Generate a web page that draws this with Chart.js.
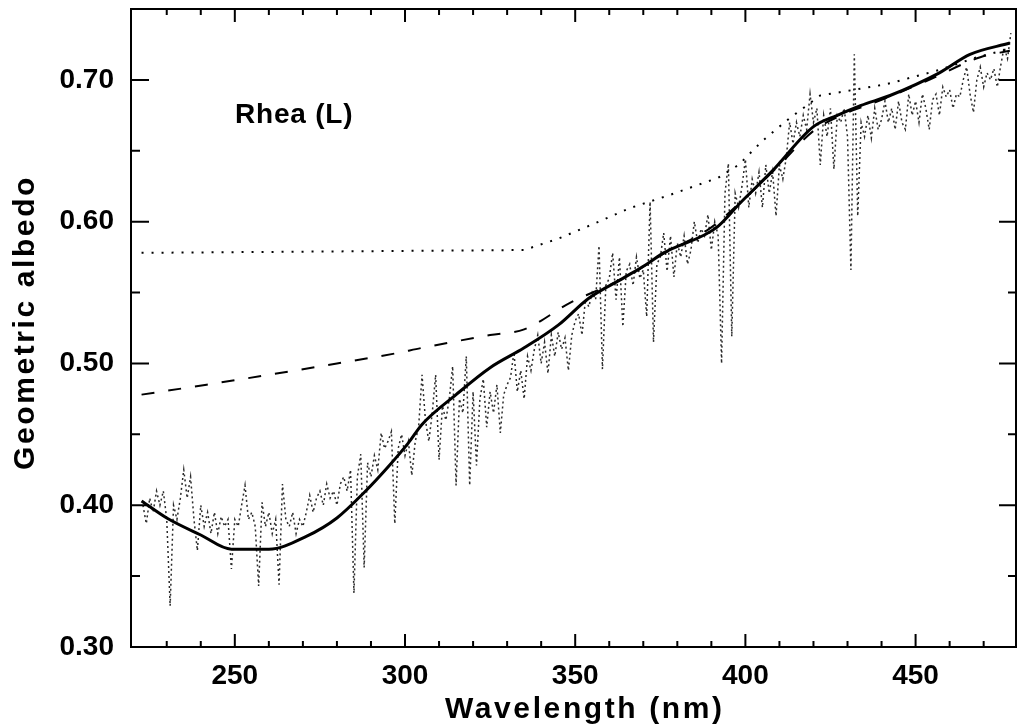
<!DOCTYPE html>
<html><head><meta charset="utf-8">
<script src="https://cdn.jsdelivr.net/npm/chart.js@4.4.0/dist/chart.umd.min.js"></script>
<style>html,body{margin:0;padding:0;background:#fff;}canvas{display:block;}</style>
</head><body>
<canvas id="c" width="1018" height="726"></canvas>
<script>
// ---- tick labels ----
const xTicks = [250, 300, 350, 400, 450];
const xMinorTicks = [230, 240, 260, 270, 280, 290, 310, 320, 330, 340, 360, 370, 380, 390, 410, 420, 430, 440, 460, 470];
const yTicks = [0.30, 0.40, 0.50, 0.60, 0.70];
const yMinorTicks = [0.35, 0.45, 0.55, 0.65];

// ---- smooth model (solid) ----
const solidX = [222.6, 230, 240, 249, 260, 271, 280, 288, 295, 301, 305, 315, 325, 335, 345, 354, 364, 371, 376, 391.6, 398.4, 408, 420, 427, 434, 442.5, 457, 466, 477.7];
const solidY = [0.403, 0.391, 0.379, 0.369, 0.369, 0.378, 0.391, 0.409, 0.427, 0.444, 0.457, 0.478, 0.497, 0.511, 0.527, 0.546, 0.560, 0.570, 0.578, 0.596, 0.613, 0.636, 0.667, 0.675, 0.682, 0.689, 0.705, 0.718, 0.726];

// ---- dashed ----
const dashedX = [222.6, 241.7, 260, 280, 297, 305, 325, 335, 349, 356, 365, 375, 390, 400, 410, 420, 430, 437.6, 453, 469, 477.7];
const dashedY = [0.478, 0.485, 0.492, 0.500, 0.507, 0.511, 0.520, 0.524, 0.5435, 0.551, 0.561, 0.576, 0.596, 0.617, 0.640, 0.664, 0.677, 0.6836, 0.699, 0.716, 0.7206];

// ---- dotted ----
const dottedX = [222.6, 335, 345, 356, 366, 378, 392, 398, 405, 413, 422, 427, 441.5, 457, 468, 477.7];
const dottedY = [0.578, 0.580, 0.588, 0.599, 0.6095, 0.619, 0.631, 0.640, 0.657, 0.673, 0.689, 0.691, 0.697, 0.707, 0.716, 0.722];

// ---- observed spectrum, 1 nm steps from 223 nm ----
const spectrumStart = 223;
const spectrumY = [
  0.400, 0.387, 0.405, 0.395, 0.410, 0.400, 0.410, 0.390, 0.329, 0.400,
  0.390, 0.405, 0.425, 0.405, 0.420, 0.390, 0.368, 0.400, 0.385, 0.395,
  0.380, 0.395, 0.380, 0.392, 0.385, 0.390, 0.355, 0.390, 0.385, 0.400,
  0.414, 0.390, 0.395, 0.385, 0.343, 0.402, 0.385, 0.395, 0.380, 0.390,
  0.344, 0.415, 0.390, 0.385, 0.395, 0.380, 0.390, 0.385, 0.395, 0.407,
  0.395, 0.405, 0.410, 0.400, 0.415, 0.405, 0.410, 0.400, 0.415, 0.420,
  0.410, 0.425, 0.338, 0.420, 0.436, 0.356, 0.430, 0.420, 0.435, 0.425,
  0.451, 0.440, 0.445, 0.452, 0.387, 0.440, 0.450, 0.435, 0.445, 0.421,
  0.445, 0.455, 0.492, 0.460, 0.445, 0.465, 0.492, 0.432, 0.470, 0.460,
  0.475, 0.498, 0.414, 0.475, 0.465, 0.505, 0.414, 0.480, 0.428, 0.475,
  0.489, 0.455, 0.480, 0.465, 0.485, 0.451, 0.478, 0.485, 0.490, 0.508,
  0.480, 0.495, 0.475, 0.505, 0.495, 0.510, 0.520, 0.500, 0.515, 0.493,
  0.520, 0.505, 0.522, 0.510, 0.518, 0.495, 0.520, 0.530, 0.535, 0.520,
  0.545, 0.540, 0.550, 0.545, 0.583, 0.496, 0.555, 0.560, 0.578, 0.545,
  0.575, 0.526, 0.565, 0.570, 0.555, 0.575, 0.560, 0.566, 0.533, 0.614,
  0.515, 0.570, 0.575, 0.592, 0.565, 0.590, 0.561, 0.585, 0.575, 0.590,
  0.570, 0.580, 0.600, 0.585, 0.595, 0.590, 0.605, 0.580, 0.600, 0.590,
  0.500, 0.620, 0.641, 0.519, 0.620, 0.610, 0.625, 0.644, 0.610, 0.630,
  0.620, 0.635, 0.610, 0.640, 0.620, 0.635, 0.604, 0.640, 0.630, 0.645,
  0.670, 0.655, 0.670, 0.660, 0.675, 0.665, 0.690, 0.670, 0.680, 0.640,
  0.675, 0.660, 0.680, 0.637, 0.675, 0.670, 0.680, 0.660, 0.566, 0.718,
  0.604, 0.670, 0.660, 0.675, 0.659, 0.680, 0.665, 0.672, 0.685, 0.670,
  0.680, 0.665, 0.685, 0.670, 0.665, 0.690, 0.675, 0.685, 0.670, 0.690,
  0.680, 0.665, 0.686, 0.690, 0.675, 0.695, 0.688, 0.693, 0.680, 0.690,
  0.688, 0.700, 0.709, 0.690, 0.677, 0.700, 0.709, 0.695, 0.705, 0.700,
  0.708, 0.695, 0.710, 0.723, 0.715, 0.733
];

const xTitle = 'Wavelength (nm)';
const yTitle = 'Geometric albedo';
const panelLabel = 'Rhea (L)';

// ---- build library data ----
const pairs = (xs, ys) => xs.map((x, i) => ({x: x, y: ys[i]}));
const spectrumPts = spectrumY.map((y, i) => ({x: spectrumStart + i, y: y}));

const FONT_FAMILY = '"Liberation Sans", Arial, Helvetica, sans-serif';

const framePlugin = {
  id: 'frame',
  afterDatasetsDraw(chart) {
    const {ctx, chartArea: a, scales: {x, y}} = chart;
    ctx.save();
    ctx.strokeStyle = '#000';
    ctx.lineWidth = 2;
    ctx.strokeRect(a.left, a.top, a.right - a.left, a.bottom - a.top);
    ctx.beginPath();
    const xt = (v, len) => {
      const p = x.getPixelForValue(v);
      ctx.moveTo(p, a.bottom); ctx.lineTo(p, a.bottom - len);
      ctx.moveTo(p, a.top); ctx.lineTo(p, a.top + len);
    };
    xTicks.forEach(v => xt(v, 13));
    xMinorTicks.forEach(v => xt(v, 6));
    const yt = (v, lenL, lenR) => {
      const p = y.getPixelForValue(v);
      ctx.moveTo(a.left, p); ctx.lineTo(a.left + lenL, p);
      ctx.moveTo(a.right, p); ctx.lineTo(a.right - lenR, p);
    };
    yTicks.forEach(v => yt(v, 18, 17));
    yMinorTicks.forEach(v => yt(v, 9, 8));
    ctx.stroke();
    ctx.restore();
  },
  afterDraw(chart) {
    const {ctx} = chart;
    ctx.save();
    ctx.fillStyle = '#000';
    ctx.font = 'bold 30px ' + FONT_FAMILY;
    ctx.textBaseline = 'alphabetic';
    ctx.textAlign = 'left';
    try { ctx.letterSpacing = '2.6px'; } catch (e) {}
    ctx.fillText(xTitle, 445, 718);
    ctx.save();
    ctx.translate(34, 470);
    ctx.rotate(-Math.PI / 2);
    ctx.fillText(yTitle, 0, 0);
    ctx.restore();
    ctx.font = 'bold 28px ' + FONT_FAMILY;
    try { ctx.letterSpacing = '0.8px'; } catch (e) {}
    ctx.fillText(panelLabel, 235, 123);
    ctx.restore();
  }
};

new Chart(document.getElementById('c'), {
  type: 'line',
  data: {
    datasets: [
      {label: 'model', data: pairs(solidX, solidY), borderColor: '#000', borderWidth: 3, pointRadius: 0, cubicInterpolationMode: 'monotone', fill: false},
      {label: 'dashed', data: pairs(dashedX, dashedY), borderColor: '#000', borderWidth: 2, borderDash: [13, 14], pointRadius: 0, cubicInterpolationMode: 'monotone', fill: false},
      {label: 'dotted', data: pairs(dottedX, dottedY), borderColor: '#000', borderWidth: 2, borderDash: [2, 8], pointRadius: 0, tension: 0, fill: false},
      {label: 'spectrum', data: spectrumPts, borderColor: '#2a2a2a', borderWidth: 1.5, borderDash: [2, 3], pointRadius: 0, tension: 0, fill: false}
    ]
  },
  options: {
    responsive: false,
    animation: false,
    devicePixelRatio: 1,
    layout: {padding: {top: 9, right: 2, left: 0, bottom: 0}},
    plugins: {legend: {display: false}, tooltip: {enabled: false}},
    scales: {
      x: {
        type: 'linear', min: 219.5, max: 479.5,
        afterBuildTicks: s => { s.ticks = xTicks.map(v => ({value: v})); },
        afterFit: s => { s.height = 79; s.paddingLeft = 0; s.paddingRight = 0; },
        grid: {display: false},
        border: {display: false},
        ticks: {color: '#000', padding: 4, maxRotation: 0, autoSkip: false,
                font: {family: FONT_FAMILY, size: 28, weight: 'bold'},
                callback: v => String(v)}
      },
      y: {
        type: 'linear', min: 0.30, max: 0.75,
        afterBuildTicks: s => { s.ticks = yTicks.map(v => ({value: v})); },
        afterFit: s => { s.width = 131; s.paddingTop = 0; s.paddingBottom = 0; },
        grid: {display: false},
        border: {display: false},
        ticks: {color: '#000', padding: 9, autoSkip: false,
                font: {family: FONT_FAMILY, size: 28, weight: 'bold'},
                callback: v => Number(v).toFixed(2)}
      }
    }
  },
  plugins: [framePlugin]
});
</script>
</body></html>
